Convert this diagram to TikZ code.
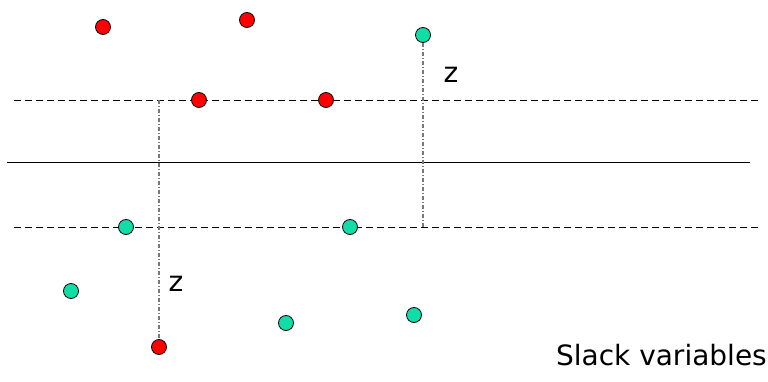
\documentclass[tikz,border=0pt]{standalone}
\usepackage{fontspec}
\setmainfont{DejaVu Sans}
\usetikzlibrary{positioning}
\definecolor{dotRed}{RGB}{255,0,0}
\definecolor{dotGreen}{RGB}{16,222,166}
\definecolor{slackGray}{RGB}{120,120,120}

\begin{document}
\begin{tikzpicture}[x=1pt, y=-1pt,
    pt/.style={circle, draw=black, line width=0.8pt, minimum size=15pt, inner sep=0pt},
    redpt/.style={pt, fill=dotRed},
    greenpt/.style={pt, fill=dotGreen},
    margin/.style={line width=0.9pt, dash pattern=on 7pt off 4pt},
    slack/.style={slackGray, line width=1.2pt, dash pattern=on 4pt off 2pt on 1pt off 2pt},
    lbl/.style={font=\fontsize{28}{32}\selectfont, inner sep=0pt}
]
\useasboundingbox (0,0) rectangle (768,382);
% separating line and margins
\draw[line width=0.9pt] (7,162) -- (750,162);
\draw[margin] (14,100) -- (760,100);
\draw[margin] (14,227) -- (760,227);
% points
\node[redpt] (r1) at (103,27) {};
\node[redpt] (r2) at (247,20) {};
\node[redpt] (r3) at (199,100) {};
\node[redpt] (r4) at (326,100) {};
\node[redpt] (r5) at (159,347) {};
\node[greenpt] (g1) at (423,35) {};
\node[greenpt] (g2) at (126,227) {};
\node[greenpt] (g3) at (350,227) {};
\node[greenpt] (g4) at (71,291) {};
\node[greenpt] (g5) at (286,323) {};
\node[greenpt] (g6) at (414,315) {};
% slack distances
\coordinate (s1) at (159,100);
\coordinate (s2) at (423,227);
\draw[slack] (s1) -- (r5.north);
\draw[slack] (g1.south) -- (s2);
\node[lbl, anchor=base] (z1) at (451,83) {z};
\node[lbl, anchor=base] (z2) at (176,291) {z};
\node[lbl, anchor=base east] (title) at (767,365) {Slack variables};
\end{tikzpicture}
\end{document}
